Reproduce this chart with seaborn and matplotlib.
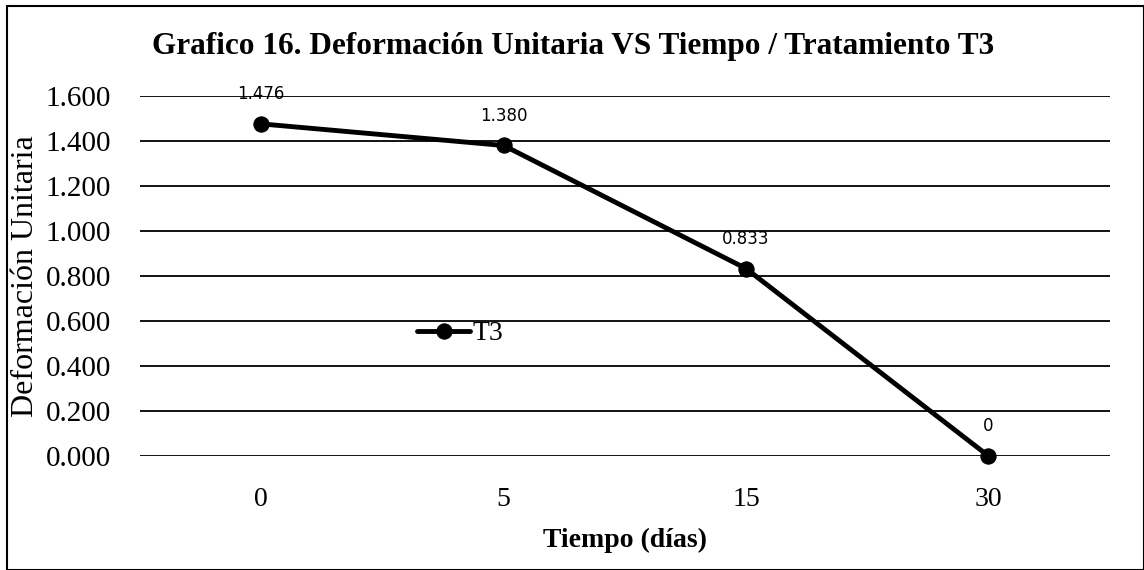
import numpy as np
import pandas as pd
import seaborn as sns
import matplotlib.pyplot as plt
from matplotlib.patches import Rectangle

# data
tiempo = ['0', '5', '15', '30']
deformacion = [1.476, 1.380, 0.833, 0.0]
etiquetas = ['1.476', '1.380', '0.833', '0']
serie = 'T3'

df = pd.DataFrame({'Tiempo': tiempo, 'Deformacion': deformacion, 'Serie': serie})

sns.set_theme(style='white', rc={'text.color': 'black', 'axes.labelcolor': 'black',
                                 'xtick.color': 'black', 'ytick.color': 'black'})
plt.rcParams['font.family'] = ['Liberation Serif', 'DejaVu Serif']

fig = plt.figure(figsize=(11.44, 5.70), dpi=100)
ax = fig.add_axes([0.1224, 0.2, 0.8476, 0.6316])

sns.lineplot(data=df, x='Tiempo', y='Deformacion', hue='Serie', palette=['black'],
             marker='o', markersize=11, markeredgecolor='black', linewidth=3.5,
             sort=False, clip_on=False, ax=ax)

# data labels above each point
for i, (val, lab) in enumerate(zip(deformacion, etiquetas)):
    ax.annotate(lab, (i, val), xytext=(0, 15), textcoords='offset points',
                ha='center', va='bottom', fontsize=12, family='DejaVu Sans',
                color='black')

ax.set_ylim(0, 1.6)
ax.set_xlim(-0.5, 3.5)
ax.set_yticks(np.arange(0, 1.61, 0.2))
ax.set_yticklabels([f'{v:.3f}' for v in np.arange(0, 1.61, 0.2)], fontsize=21)
ax.tick_params(axis='x', labelsize=20, length=0, pad=22)
ax.tick_params(axis='y', length=0, pad=21)
ax.grid(axis='y', color='black', linewidth=1.3)
ax.set_axisbelow(True)
for s in ax.spines.values():
    s.set_visible(False)

ax.set_title('Grafico 16. Deformación Unitaria VS Tiempo / Tratamiento T3',
             fontsize=22.5, fontweight='bold', pad=30, x=0.447)
ax.set_xlabel('Tiempo (días)', fontsize=20, fontweight='bold', labelpad=12)
ax.set_ylabel('Deformación Unitaria', fontsize=23, labelpad=4)

leg = ax.legend(loc='center left', bbox_to_anchor=(0.26, 0.34), frameon=False,
                fontsize=20, handlelength=1.9, handletextpad=0.1)
leg.set_title(None)
for h in leg.get_lines():
    h.set_linewidth(3.5)
    h.set_markeredgecolor('black')

# outer frame of the figure
fig.patches.append(Rectangle((0.006, 0.0), 0.994, 0.99, transform=fig.transFigure,
                             fill=False, edgecolor='black', linewidth=1.5))

fig.savefig('out.png', dpi=100)
